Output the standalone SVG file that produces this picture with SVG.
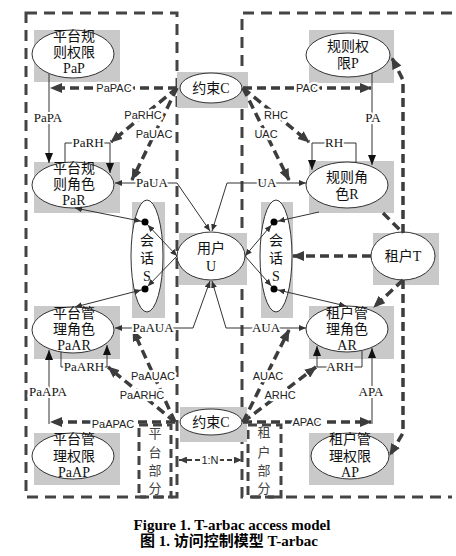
<svg xmlns="http://www.w3.org/2000/svg" width="456" height="556" viewBox="0 0 456 556">
<style>
.bg{fill:#c9c9c9}
.el{fill:#fff;stroke:#333;stroke-width:1}
.nt{font-family:"Liberation Serif","Noto Sans CJK SC",serif;font-size:14px;fill:#111;text-anchor:middle}
.pt{font-family:"Liberation Serif","Noto Sans CJK SC",serif;font-size:13px;fill:#444;text-anchor:middle}
.region{fill:none;stroke:#444;stroke-width:3;stroke-dasharray:11 7}
.part{fill:none;stroke:#444;stroke-width:3;stroke-dasharray:9 5}
.thin{fill:none;stroke:#333;stroke-width:1}
.tk{fill:none;stroke:#3c3c3c;stroke-width:3.5;stroke-dasharray:9 5}
.md{fill:none;stroke:#3c3c3c;stroke-width:2;stroke-dasharray:5 3}
.ls{font-family:"Liberation Serif",serif;font-size:13px;fill:#111;text-anchor:middle;stroke:#fff;stroke-width:4;stroke-linejoin:round;paint-order:stroke}
.lf{font-family:"Liberation Sans",Arial,sans-serif;font-size:11px;fill:#222;text-anchor:middle;stroke:#fff;stroke-width:4.5;stroke-linejoin:round;paint-order:stroke}
.dot{fill:#000}
.ti{font-family:"Liberation Serif","Noto Sans CJK SC",serif;font-size:15px;font-weight:bold;fill:#000;text-anchor:middle}
</style>
<defs>
<marker id="ab" viewBox="0 0 10 8" refX="10" refY="4" markerWidth="10" markerHeight="8" markerUnits="userSpaceOnUse" orient="auto"><path d="M0,0L10,4L0,8z" fill="#111"/></marker>
<marker id="as" viewBox="0 0 7 6" refX="7" refY="3" markerWidth="7" markerHeight="6" markerUnits="userSpaceOnUse" orient="auto-start-reverse"><path d="M0,0L7,3L0,6z" fill="#333"/></marker>
<marker id="ad" viewBox="0 0 11 6" refX="11" refY="3" markerWidth="11" markerHeight="6" markerUnits="userSpaceOnUse" orient="auto-start-reverse"><path d="M0,0L7,3L0,6z" fill="#333"/></marker>
<marker id="at" viewBox="0 0 12 10" refX="11" refY="5" markerWidth="12" markerHeight="10" markerUnits="userSpaceOnUse" orient="auto"><path d="M0,0L12,5L0,10z" fill="#3c3c3c"/></marker>
<marker id="am" viewBox="0 0 8 7" refX="8" refY="3.5" markerWidth="8" markerHeight="7" markerUnits="userSpaceOnUse" orient="auto-start-reverse"><path d="M0,0L8,3.5L0,7z" fill="#3c3c3c"/></marker>
</defs>
<rect width="456" height="556" fill="#fff"/>
<g id="regions">
<path class="region" d="M26,13H177V497H26Z"/>
<path class="region" d="M452,13H242V497H452"/>
</g>
<g id="part-platform"><rect class="part" x="139" y="425" width="32" height="72"/>
<text class="pt" x="155" y="438">平</text><text class="pt" x="155" y="457">台</text><text class="pt" x="155" y="475">部</text><text class="pt" x="155" y="493">分</text></g>
<g id="part-tenant"><rect class="part" x="248" y="425" width="33" height="72"/>
<text class="pt" x="264" y="437">租</text><text class="pt" x="264" y="457">户</text><text class="pt" x="264" y="475">部</text><text class="pt" x="264" y="493">分</text></g>
<g id="PaP"><rect class="bg" x="34" y="30" width="86" height="52"/><ellipse class="el" cx="73" cy="54" rx="41" ry="24"/>
<text class="nt" x="74" y="41">平台规</text><text class="nt" x="74" y="57">则权限</text><text class="nt" x="74" y="73">PaP</text></g>
<g id="C1"><rect class="bg" x="177" y="72" width="71" height="36"/><ellipse class="el" cx="211" cy="88" rx="31" ry="15"/>
<text class="nt" x="211" y="93">约束C</text></g>
<g id="P"><rect class="bg" x="309" y="30" width="85" height="53"/><ellipse class="el" cx="348" cy="55" rx="42" ry="22"/>
<text class="nt" x="348" y="51">规则权</text><text class="nt" x="348" y="68">限P</text></g>
<g id="PaR"><rect class="bg" x="34" y="162" width="86" height="51"/><ellipse class="el" cx="73" cy="185" rx="41" ry="23"/>
<text class="nt" x="74" y="173">平台规</text><text class="nt" x="74" y="189">则角色</text><text class="nt" x="74" y="205">PaR</text></g>
<g id="R"><rect class="bg" x="309" y="161" width="85" height="52"/><ellipse class="el" cx="347" cy="185" rx="41" ry="23"/>
<text class="nt" x="347" y="182">规则角</text><text class="nt" x="347" y="199">色R</text></g>
<g id="S1"><rect class="bg" x="132" y="202" width="33" height="116"/><ellipse class="el" cx="147" cy="256" rx="16" ry="56"/>
<text class="nt" x="147" y="245">会</text><text class="nt" x="147" y="263">话</text><text class="nt" x="147" y="281">S</text></g>
<g id="U"><rect class="bg" x="179" y="233" width="68" height="52"/><ellipse class="el" cx="211" cy="256" rx="34" ry="24"/>
<text class="nt" x="211" y="253">用户</text><text class="nt" x="211" y="271">U</text></g>
<g id="S2"><rect class="bg" x="261" y="202" width="32" height="116"/><ellipse class="el" cx="276" cy="256" rx="16" ry="56"/>
<text class="nt" x="276" y="245">会</text><text class="nt" x="276" y="263">话</text><text class="nt" x="276" y="281">S</text></g>
<g id="T"><rect class="bg" x="373" y="233" width="66" height="52"/><ellipse class="el" cx="403" cy="256" rx="32" ry="24"/>
<text class="nt" x="403" y="261">租户T</text></g>
<g id="PaAR"><rect class="bg" x="34" y="306" width="86" height="53"/><ellipse class="el" cx="73" cy="330" rx="41" ry="23"/>
<text class="nt" x="74" y="318">平台管</text><text class="nt" x="74" y="334">理角色</text><text class="nt" x="74" y="350">PaAR</text></g>
<g id="AR"><rect class="bg" x="309" y="306" width="85" height="53"/><ellipse class="el" cx="347" cy="329" rx="41" ry="23"/>
<text class="nt" x="347" y="318">租户管</text><text class="nt" x="347" y="334">理角色</text><text class="nt" x="347" y="350">AR</text></g>
<g id="C2"><rect class="bg" x="180" y="407" width="67" height="35"/><ellipse class="el" cx="211" cy="422" rx="31" ry="13"/>
<text class="nt" x="211" y="427">约束C</text></g>
<g id="PaAP"><rect class="bg" x="34" y="433" width="86" height="52"/><ellipse class="el" cx="73" cy="456" rx="41" ry="23"/>
<text class="nt" x="74" y="444">平台管</text><text class="nt" x="74" y="461">理权限</text><text class="nt" x="74" y="477">PaAP</text></g>
<g id="AP"><rect class="bg" x="309" y="433" width="85" height="52"/><ellipse class="el" cx="350" cy="456" rx="39" ry="23"/>
<text class="nt" x="350" y="444">租户管</text><text class="nt" x="350" y="461">理权限</text><text class="nt" x="350" y="477">AP</text></g>
<g id="connectors">
<path class="thin" d="M49,74V163" marker-end="url(#ab)"/>
<path class="thin" d="M372,73V165" marker-end="url(#ab)"/>
<path class="thin" d="M65,163V143H110V173" marker-end="url(#ab)"/>
<path class="thin" d="M356,163V143H312V170" marker-end="url(#ab)"/>
<path class="thin" d="M61,352V367H107V345" marker-end="url(#ab)"/>
<path class="thin" d="M362,351V367H317V346" marker-end="url(#ab)"/>
<path class="thin" d="M49,424V350" marker-end="url(#ab)"/>
<path class="thin" d="M372,424V348" marker-end="url(#ab)"/>
<path class="thin" d="M115,183H177L210,231" marker-start="url(#as)" marker-end="url(#as)"/>
<path class="thin" d="M306,183H227L212,231" marker-start="url(#as)" marker-end="url(#as)"/>
<path class="thin" d="M115,328H193L210,281" marker-start="url(#as)" marker-end="url(#as)"/>
<path class="thin" d="M306,328H226L212,281" marker-start="url(#as)" marker-end="url(#as)"/>
<path class="thin" d="M177,256L145,222" marker-start="url(#as)" marker-end="url(#ad)"/>
<path class="thin" d="M177,256L145,289" marker-end="url(#ad)"/>
<path class="thin" d="M75,208L145,222" marker-start="url(#as)" marker-end="url(#ad)"/>
<path class="thin" d="M75,307L145,289" marker-start="url(#as)" marker-end="url(#ad)"/>
<path class="thin" d="M245,256L274,222" marker-start="url(#as)" marker-end="url(#ad)"/>
<path class="thin" d="M245,256L274,289" marker-end="url(#ad)"/>
<path class="thin" d="M319,212L274,222" marker-end="url(#ad)"/>
<path class="thin" d="M346,306L274,289" marker-start="url(#as)" marker-end="url(#ad)"/>
<circle class="dot" cx="145" cy="222" r="3.5"/><circle class="dot" cx="145" cy="289" r="3.5"/>
<circle class="dot" cx="274" cy="222" r="3.5"/><circle class="dot" cx="274" cy="289" r="3.5"/>
<path class="tk" d="M177,88H51" marker-end="url(#at)"/>
<path class="tk" d="M243,88H371" marker-end="url(#at)"/>
<path class="tk" d="M177,88L111,142" marker-end="url(#at)"/>
<path class="tk" d="M177,88L132,180" marker-end="url(#at)"/>
<path class="tk" d="M243,88L309,142" marker-end="url(#at)"/>
<path class="tk" d="M243,88L289,180" marker-end="url(#at)"/>
<path class="tk" d="M175,422H51" marker-end="url(#at)"/>
<path class="tk" d="M243,422H371" marker-end="url(#at)"/>
<path class="tk" d="M175,422L108,367" marker-end="url(#at)"/>
<path class="tk" d="M175,422L133,330" marker-end="url(#at)"/>
<path class="tk" d="M243,422L316,367" marker-end="url(#at)"/>
<path class="tk" d="M243,422L289,330" marker-end="url(#at)"/>
<path class="tk" d="M371,256H293" marker-end="url(#at)"/>
<path class="tk" d="M403,233V80L392,58" marker-end="url(#at)"/>
<path class="tk" d="M383,213L403,233"/>
<path class="tk" d="M403,280L374,307" marker-end="url(#at)"/>
<path class="tk" d="M403,280V433L390,455" marker-end="url(#at)"/>
<path class="md" d="M179,460H242" marker-start="url(#am)" marker-end="url(#am)"/>
<text class="ls" x="48" y="122">PaPA</text>
<text class="ls" x="373" y="122">PA</text>
<text class="ls" x="88" y="147">PaRH</text>
<text class="ls" x="334" y="147">RH</text>
<text class="ls" x="152" y="187">PaUA</text>
<text class="ls" x="267" y="187">UA</text>
<text class="ls" x="153" y="332">PaAUA</text>
<text class="ls" x="266" y="332">AUA</text>
<text class="ls" x="84" y="371">PaARH</text>
<text class="ls" x="340" y="371">ARH</text>
<text class="ls" x="48" y="396">PaAPA</text>
<text class="ls" x="371" y="396">APA</text>
<text class="lf" x="114" y="92">PaPAC</text>
<text class="lf" x="307" y="92">PAC</text>
<text class="lf" x="143" y="119">PaRHC</text>
<text class="lf" x="154" y="138">PaUAC</text>
<text class="lf" x="276" y="119">RHC</text>
<text class="lf" x="266" y="138">UAC</text>
<text class="lf" x="153" y="380">PaAUAC</text>
<text class="lf" x="142" y="399">PaARHC</text>
<text class="lf" x="268" y="380">AUAC</text>
<text class="lf" x="280" y="399">ARHC</text>
<text class="lf" x="113" y="428">PaAPAC</text>
<text class="lf" x="307" y="426">APAC</text>
<text class="lf" x="210" y="464">1:N</text>
</g>
<text class="ti" x="232" y="530">Figure 1. T-arbac access model</text>
<text class="ti" x="229" y="546">图 1. 访问控制模型 T-arbac</text>
</svg>
